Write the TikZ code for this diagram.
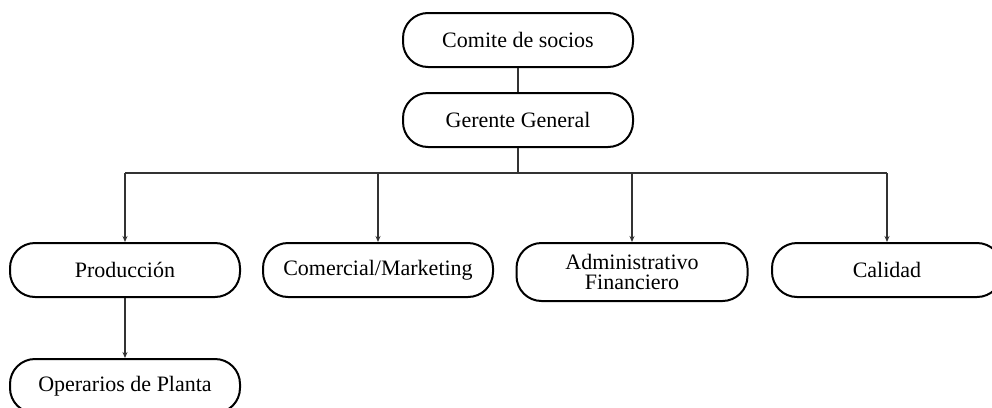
\documentclass[tikz,border=0pt]{standalone}
\usepackage{fontspec}
\setmainfont{Liberation Serif}
\usetikzlibrary{arrows.meta}
\begin{document}
\begin{tikzpicture}[x=1pt,y=-1pt,
  box/.style={draw=black,line width=2pt,rounded corners=25pt,minimum width=230pt,minimum height=54pt,inner sep=0pt,align=center,font=\fontsize{22}{20}\selectfont},
  conn/.style={draw=black!80,line width=1.1pt},
  arr/.style={conn,-{Stealth[length=6pt,width=5pt]}}]
\useasboundingbox (0,0) rectangle (992,407);
\clip (0,0) rectangle (992,407);
\node[box] (comite) at (518,40) {Comite de socios};
\node[box] (gerente) at (518,120) {Gerente General};
\node[box] (prod) at (125,270) {Producción};
\node[box] (com) at (378,270) {Comercial/Marketing};
\node[box,minimum width=231pt,minimum height=58pt] (adm) at (632,272) {Administrativo\\Financiero};
\node[box] (cal) at (887,270) {Calidad};
\node[box] (oper) at (125,386) {Operarios de Planta};
\coordinate (bus) at (518,173);
\draw[conn] (comite) -- (gerente);
\draw[conn] (gerente) -- (bus);
\draw[conn] (prod.north |- bus) -- (cal.north |- bus);
\draw[arr] (prod.north |- bus) -- (prod.north);
\draw[arr] (com.north |- bus) -- (com.north);
\draw[arr] (adm.north |- bus) -- (adm.north);
\draw[arr] (cal.north |- bus) -- (cal.north);
\draw[arr] (prod) -- (oper);
\end{tikzpicture}
\end{document}
